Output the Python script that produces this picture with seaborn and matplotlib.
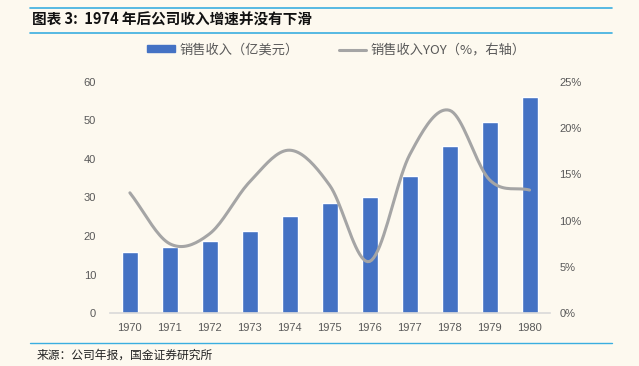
import numpy as np
import pandas as pd
import matplotlib
matplotlib.use("Agg")
import matplotlib.pyplot as plt
from matplotlib.lines import Line2D
from matplotlib.patches import Patch
import seaborn as sns

years = ["1970", "1971", "1972", "1973", "1974", "1975",
         "1976", "1977", "1978", "1979", "1980"]
revenue = [16.0, 17.1, 18.6, 21.2, 25.1, 28.6, 30.2, 35.5, 43.3, 49.6, 56.1]
yoy = [13.0, 7.5, 8.6, 14.2, 17.6, 13.8, 5.6, 17.1, 21.9, 14.4, 13.3]

title = "图表 3:  1974 年后公司收入增速并没有下滑"
source = "来源：公司年报，国金证券研究所"
bar_label = "销售收入（亿美元）"
line_label = "销售收入YOY（%，右轴）"

bg = "#fdf9ef"
bar_color = "#4472C4"
line_color = "#A5A5A5"
text_color = "#595959"
rule_color = "#3AAEE0"

sns.set_style("white")
plt.rcParams["font.family"] = ["Noto Sans CJK SC", "DejaVu Sans"]

df = pd.DataFrame({"year": years, "revenue": revenue, "yoy": yoy})

fig = plt.figure(figsize=(6.39, 3.66), dpi=100)
fig.patch.set_facecolor(bg)
ax = fig.add_axes([0.172, 0.144, 0.688, 0.633])
ax.set_facecolor(bg)

sns.barplot(data=df, x="year", y="revenue", color=bar_color, width=0.4,
            saturation=1, ax=ax)
ax.set_xlim(-0.5, 10.5)
ax.set_ylim(0, 60)
ax.set_yticks(range(0, 61, 10))
ax.set_xlabel("")
ax.set_ylabel("")
for s in ["top", "right", "left"]:
    ax.spines[s].set_visible(False)
ax.spines["bottom"].set_color("#d9d9d9")
ax.spines["bottom"].set_linewidth(1.2)
ax.tick_params(axis="x", length=0, labelsize=8, colors=text_color, pad=7)
ax.tick_params(axis="y", length=0, labelsize=8, colors=text_color, pad=10)
for lbl in ax.get_xticklabels() + ax.get_yticklabels():
    lbl.set_family("Liberation Sans")

# smoothed line (Catmull-Rom through the yoy points, Excel style)
ax2 = ax.twinx()
pts = np.array(yoy, dtype=float)
xs = np.arange(len(pts), dtype=float)
p = np.concatenate([[2 * pts[0] - pts[1]], pts, [2 * pts[-1] - pts[-2]]])
sx, sy = [], []
for i in range(len(pts) - 1):
    p0, p1, p2, p3 = p[i], p[i + 1], p[i + 2], p[i + 3]
    t = np.linspace(0, 1, 20, endpoint=(i == len(pts) - 2))
    y = 0.5 * (2 * p1 + (-p0 + p2) * t + (2 * p0 - 5 * p1 + 4 * p2 - p3) * t ** 2
               + (-p0 + 3 * p1 - 3 * p2 + p3) * t ** 3)
    sx.extend(xs[i] + t)
    sy.extend(y)
sns.lineplot(x=sx, y=sy, color=line_color, linewidth=2.2, ax=ax2, sort=False)
ax2.set_ylim(0, 25)
ax2.set_yticks(range(0, 26, 5))
ax2.set_yticklabels([f"{v}%" for v in range(0, 26, 5)])
for s in ["top", "right", "left", "bottom"]:
    ax2.spines[s].set_visible(False)
ax2.tick_params(axis="y", length=0, labelsize=8, colors=text_color, pad=7)
for lbl in ax2.get_yticklabels():
    lbl.set_family("Liberation Sans")

handles = [Patch(color=bar_color, label=bar_label),
           Line2D([0], [0], color=line_color, lw=2.2, label=line_label)]
fig.legend(handles=handles, loc="center", bbox_to_anchor=(0.527, 0.863), ncol=2,
           frameon=False, fontsize=9.5, labelcolor=text_color, handlelength=2.1,
           handletextpad=0.35, columnspacing=3.0, handleheight=0.45)

fig.text(0.05, 0.945, title, fontsize=10.5, fontweight="bold", style="italic",
         va="center", ha="left", color="#111111")
for y in [0.978, 0.91]:
    fig.add_artist(Line2D([0.047, 0.958], [y, y], color=rule_color, lw=1.2))
fig.add_artist(Line2D([0.047, 0.958], [0.062, 0.062], color=rule_color, lw=1.0))
fig.text(0.058, 0.03, source, fontsize=8.5, va="center", ha="left", color="#222222")

fig.savefig("out.png", dpi=100, facecolor=bg)
